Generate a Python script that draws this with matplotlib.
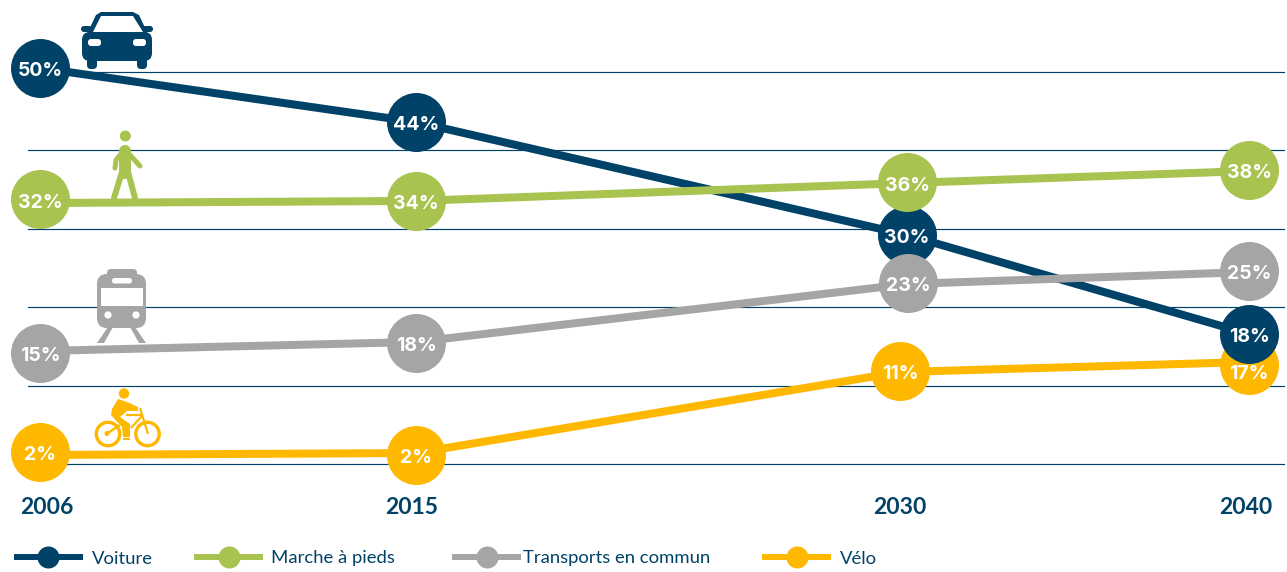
import matplotlib
matplotlib.use("Agg")
import matplotlib.pyplot as plt
from matplotlib.lines import Line2D
from matplotlib.patches import Circle, FancyBboxPatch, Polygon
from matplotlib.transforms import Affine2D

FIG_W, FIG_H = 1287, 572
plt.rcParams['font.family'] = ['Lato', 'DejaVu Sans']

years = ['2006', '2015', '2030', '2040']
year_slots = [47, 412, 900, 1246]
grid_levels = [0, 10, 20, 30, 40, 50]

series_names = ['Voiture', 'Marche à pieds', 'Transports en commun', 'Vélo']
NAVY, GREEN, GRAY, YELLOW = '#004268', '#A8C34F', '#A5A5A5', '#FFB800'

# printed percentages
voiture_labels = [50, 44, 30, 18]
marche_labels = [32, 34, 36, 38]
transports_labels = [15, 18, 23, 25]
velo_labels = [2, 2, 11, 17]

# horizontal slots of each bubble
voiture_x = [40, 416, 907, 1249]
marche_x = [40, 416, 907, 1249]
transports_x = [40, 416, 908, 1249]
velo_x = [40, 416, 900, 1249]

# drawn heights (the source graphic is not to scale), read against the gridlines
voiture_line = [50.51, 43.62, 29.21, 16.58]
voiture_bubble = [50.51, 43.62, 29.21, 16.58]
marche_line = [33.29, 33.55, 35.84, 37.37]
marche_bubble = [33.74, 33.55, 35.91, 37.50]
transports_line = [14.41, 15.56, 22.96, 24.49]
transports_bubble = [14.16, 15.43, 23.09, 24.62]
velo_line = [1.15, 1.40, 11.73, 13.01]
velo_bubble = [1.53, 1.15, 11.86, 12.63]

fig = plt.figure(figsize=(FIG_W / 100, FIG_H / 100), dpi=100, facecolor='white')
ax = fig.add_axes([28 / FIG_W, (FIG_H - 464) / FIG_H, (1284 - 28) / FIG_W, (464 - 72) / FIG_H])
ax.set_xlim(28, 1284)
ax.set_ylim(0, 50)
for s in ['top', 'left', 'right', 'bottom']:
    ax.spines[s].set_visible(False)
ax.set_yticks(grid_levels)
ax.set_yticklabels([])
ax.tick_params(axis='y', length=0)
ax.grid(axis='y', color=NAVY, lw=0.85, zorder=1, clip_on=False)
for gl in ax.get_ygridlines():
    gl.set_clip_on(False)
ax.set_axisbelow(True)
ax.set_xticks(year_slots)
ax.set_xticklabels(years, fontsize=16.5, fontweight='bold', color=NAVY)
ax.tick_params(axis='x', length=0, pad=24)

rows = [
    (voiture_x, voiture_line, voiture_bubble, voiture_labels, NAVY, 4, 6),
    (marche_x, marche_line, marche_bubble, marche_labels, GREEN, 6, 8),
    (transports_x, transports_line, transports_bubble, transports_labels, GRAY, 5, 7),
    (velo_x, velo_line, velo_bubble, velo_labels, YELLOW, 2, 3),
]
R_PT = 59 * 0.72
for xs, ln, bub, labs, col, zl, zb in rows:
    ax.plot(xs, ln, color=col, lw=8 * 0.72, solid_capstyle='butt', zorder=zl, clip_on=False)
    ax.plot(xs, bub, ls='none', marker='o', ms=R_PT, mfc=col, mec='none', zorder=zb, clip_on=False)
    for i, (x, y, v) in enumerate(zip(xs, bub, labs)):
        dy = -2.4 if not (col == YELLOW and i == 3) else -6.5
        ax.annotate(f'{v}%', (x, y), xytext=(0, dy), textcoords='offset points',
                    ha='center', va='center', color='white', fontsize=14,
                    fontweight='bold', family=['Inter', 'DejaVu Sans'],
                    zorder=10, annotation_clip=False)

# icons, drawn in image pixel coordinates
px = Affine2D().scale(1, -1).translate(0, FIG_H)
def add(p):
    p.set_transform(px)
    p.set_clip_on(False)
    p.set_zorder(9)
    ax.add_artist(p)
def rrect(x0, y0, x1, y1, r, col):
    add(FancyBboxPatch((x0 + r, y0 + r), x1 - x0 - 2 * r, y1 - y0 - 2 * r,
                       boxstyle=f'round,pad={r},rounding_size={r}', fc=col, ec='none'))
def poly(pts, col):
    add(Polygon(pts, closed=True, fc=col, ec='none'))
def stroke(pts, w, col, cap='round'):
    l = Line2D([p[0] for p in pts], [p[1] for p in pts], color=col, lw=w * 0.72,
               solid_capstyle=cap, solid_joinstyle='round')
    add(l)

# car
poly([(87, 34), (96, 15), (101, 12), (133, 12), (139, 15), (148, 34)], NAVY)
poly([(93, 32), (101, 16), (133, 16), (143, 32)], 'white')
poly([(90, 32), (144, 32), (150, 40), (84, 40)], NAVY)
rrect(81, 26, 92, 32, 3, NAVY)
rrect(142, 26, 153, 32, 3, NAVY)
rrect(82, 32, 152, 61, 8, NAVY)
rrect(87, 58, 97, 69, 4, NAVY)
rrect(137, 58, 147, 69, 4, NAVY)
rrect(88, 39, 101, 46, 3, 'white')
rrect(133, 39, 146, 46, 3, 'white')

# walker
add(Circle((125.3, 136), 5.5, fc=GREEN, ec='none'))
stroke([(125, 151), (125, 173)], 12, GREEN)
stroke([(120, 155), (116, 160), (115, 168)], 5, GREEN)
stroke([(130, 155), (140, 166)], 5, GREEN)
stroke([(122, 172), (114, 198)], 6, GREEN)
stroke([(128, 172), (135, 198)], 6, GREEN)

# train
rrect(107, 269, 137, 280, 4, GRAY)
rrect(97, 274, 146, 328, 10, GRAY)
rrect(112, 278, 132, 283.5, 2.5, 'white')
poly([(101, 288), (143, 288), (143, 306), (101, 306)], 'white')
add(Circle((108, 315), 3.6, fc='white', ec='none'))
add(Circle((136, 315), 3.6, fc='white', ec='none'))
poly([(97, 343), (108, 327), (113, 327), (104, 343)], GRAY)
poly([(146, 343), (135, 327), (130, 327), (139, 343)], GRAY)

# bike
for cx in (108, 147.5):
    add(Circle((cx, 434), 11.7, fc='none', ec=YELLOW, lw=3.4 * 0.72))
add(Circle((124, 393.5), 5.2, fc=YELLOW, ec='none'))
poly([(118, 399), (127, 402), (138, 407), (138, 411), (127, 411), (120, 417),
      (130, 424), (130, 437), (123, 437), (122, 427), (111, 415), (112, 409)], YELLOW)
stroke([(140, 408), (148, 434)], 2.2, YELLOW, 'butt')
stroke([(126, 415), (142, 415)], 2.2, YELLOW, 'butt')
stroke([(131, 428), (142, 416)], 2.2, YELLOW, 'butt')
stroke([(108, 433), (120, 425)], 2.5, YELLOW, 'butt')
add(Circle((107, 433.5), 2.5, fc=YELLOW, ec='none'))
stroke([(123, 438.5), (130, 438.5)], 2.2, YELLOW, 'butt')

# legend
legend_left = [14, 194, 452, 762]
legend_pad = [0.5, 0.44, 0.11, 0.5]
for name, col, x, pad in zip(series_names, [NAVY, GREEN, GRAY, YELLOW], legend_left, legend_pad):
    h = Line2D([], [], color=col, lw=6 * 0.72, marker='o', ms=22 * 0.72, mfc=col, mec='none',
               solid_capstyle='butt')
    fig.legend([h], [name], loc='center left', bbox_to_anchor=(x / FIG_W, 1 - 558.5 / FIG_H),
               frameon=False, fontsize=13.3, borderpad=0, borderaxespad=0,
               handlelength=69 / (13.3 / 0.72), handletextpad=pad, labelcolor=NAVY)

fig.savefig('out.png', dpi=100, facecolor='white')
